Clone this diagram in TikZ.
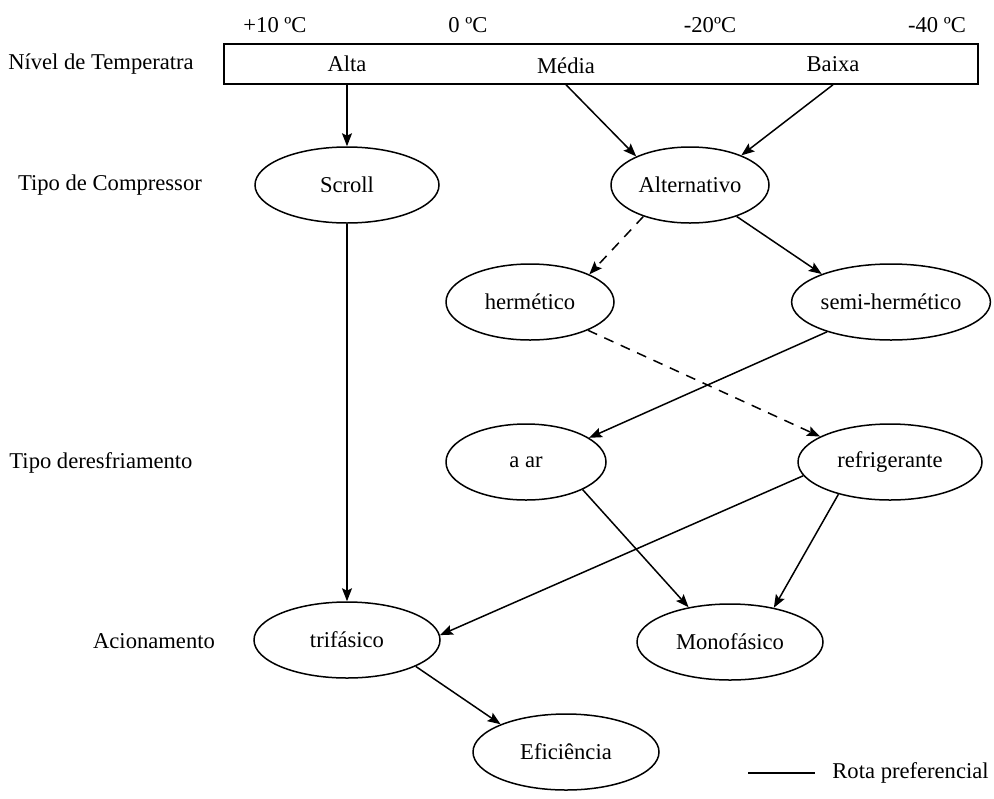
\documentclass[tikz,border=0pt]{standalone}
\usepackage{fontspec}
\setmainfont{Liberation Serif}
\usetikzlibrary{arrows.meta, shapes.geometric}

\begin{document}
\begin{tikzpicture}[
  x=0.5pt, y=-0.5pt,
  >={Stealth[length=6.5pt, width=5pt, inset=1.2pt]},
  font=\fontsize{11.3}{13}\selectfont,
  oval/.style={
    draw, ellipse, line width=0.75pt, inner sep=0pt,
    minimum width=#1, minimum height=38pt
  },
  oval/.default=92pt,
  lvl/.style={align=center, inner sep=0pt},
  arr/.style={->, line width=0.75pt},
  darr/.style={->, line width=0.75pt, dash pattern=on 5pt off 4pt},
]

% Page frame
\useasboundingbox (0,0) rectangle (994,798);

% Row labels
\node[lvl] (lvtemp) at (101,64) {Nível de Temperatra};
\node[lvl] (lvcomp) at (110,185) {Tipo de Compressor};
\node[lvl] (lvresf) at (101,463) {Tipo deresfriamento};
\node[lvl] (lvacio) at (154,641) {Acionamento};

% Temperature scale
\node[lvl] (t10) at (275,25) {+10 ºC};
\node[lvl] (t0) at (468,25) {0 ºC};
\node[lvl] (t20) at (710,25) {-20ºC};
\node[lvl] (t40) at (937,25) {-40 ºC};

% Temperature bar
\node[draw, line width=0.75pt, minimum width=377pt, minimum height=20pt,
  inner sep=0pt] (tbar) at (601,64) {};
\node[lvl] (alta) at (347,64) {Alta};
\node[lvl] (media) at (566,66) {Média};
\node[lvl] (baixa) at (833,64) {Baixa};

% Compressor
\node[oval=92pt] (scroll) at (347,185) {Scroll};
\node[oval=79pt] (alter) at (690,185) {Alternativo};
\node[oval=84pt] (herm) at (530,302) {hermético};
\node[oval=92pt] (semi) at (891,302) {semi-hermético};

% Cooling
\node[oval=80pt] (aar) at (526,462) {a ar};
\node[oval=92pt] (refr) at (890,462) {refrigerante};

% Drive
\node[oval=93pt] (trif) at (347,640) {trifásico};
\node[oval=93pt] (mono) at (730,642) {Monofásico};
\node[oval=93pt] (efic) at (566,752) {Eficiência};

% Connections
\draw[arr] (alta |- tbar.south) -- (scroll.north);
\draw[arr] (media |- tbar.south) -- (alter.152);
\draw[arr] (baixa |- tbar.south) -- (alter.30);
\draw[darr] (alter.214) -- (herm.25);
\draw[arr] (alter.326) -- (semi.158);
\draw[darr] (herm.334) -- (refr.160);
\draw[arr] (semi.205) -- (aar.21);
\draw[arr] (scroll.south) -- (trif.north);
\draw[arr] (aar.334) -- (mono.140);
\draw[arr] (refr.189) -- (trif.3);
\draw[arr] (refr.212) -- (mono.38);
\draw[arr] (trif.339) -- (efic.157);

% Legend
\coordinate (leg1) at (748,773);
\coordinate (leg2) at (815,773);
\draw[line width=0.75pt] (leg1) -- (leg2);
\node[lvl, anchor=west] (legtxt) at (832,773) {Rota preferencial};

\end{tikzpicture}
\end{document}
